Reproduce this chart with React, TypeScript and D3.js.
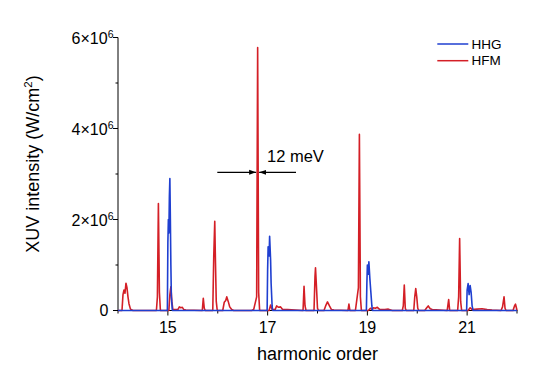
import React from "react";
import * as d3 from "d3";

// HFM (red) spectrum: harmonic order and intensity (10^6 W/cm^2)
const hfmOrder = [
  14.0, 14.08, 14.1, 14.12, 14.14, 14.16, 14.18, 14.2, 14.22, 14.25, 14.3,
  14.77, 14.79, 14.81, 14.83, 14.85,
  15.02, 15.04, 15.06, 15.08, 15.1, 15.2, 15.23, 15.26, 15.29, 15.32, 15.36,
  15.69, 15.71, 15.73, 15.75,
  15.9, 15.92, 15.94, 15.95, 15.97, 15.99,
  16.1, 16.13, 16.16, 16.18, 16.21, 16.24, 16.28, 16.32,
  16.68, 16.72, 16.78, 16.8, 16.82, 16.84,
  17.03, 17.06, 17.09, 17.15, 17.18, 17.22, 17.26, 17.3, 17.4,
  17.71, 17.73, 17.75, 17.77,
  17.93, 17.95, 17.96, 17.98, 18.0, 18.02,
  18.13, 18.17, 18.2, 18.24, 18.28, 18.33,
  18.61, 18.63, 18.65,
  18.76, 18.79, 18.82, 18.84, 18.86, 18.88,
  19.02, 19.06, 19.1, 19.12, 19.16, 19.2, 19.25, 19.35, 19.42, 19.5,
  19.7, 19.72, 19.74, 19.76, 19.78,
  19.93, 19.95, 19.97, 19.99, 20.01, 20.03,
  20.15, 20.19, 20.22, 20.26, 20.3, 20.45,
  20.6, 20.63, 20.65,
  20.81, 20.83, 20.85, 20.87, 20.89,
  21.02, 21.06, 21.1, 21.2, 21.3, 21.4, 21.5,
  21.68, 21.71, 21.74, 21.76, 21.78,
  21.92, 21.95, 21.97, 21.99, 22.0,
];
const hfmIntensity = [
  0, 0, 0.35, 0.45, 0.38, 0.6, 0.5, 0.3, 0.15, 0.03, 0,
  0, 0.3, 2.35, 0.4, 0,
  0, 0.35, 0.52, 0.2, 0.02, 0.02, 0.08, 0.06, 0.07, 0.02, 0.01,
  0, 0.27, 0.05, 0,
  0, 1.2, 1.96, 1.3, 0.2, 0,
  0, 0.18, 0.22, 0.3, 0.2, 0.08, 0.02, 0,
  0, 0.02, 0.3, 5.78, 0.4, 0,
  0, 0.12, 0.02, 0.02, 0.1, 0.07, 0.08, 0.02, 0.02,
  0, 0.53, 0.1, 0,
  0, 0.75, 0.94, 0.5, 0.05, 0,
  0, 0.12, 0.19, 0.1, 0.02, 0.01,
  0, 0.14, 0,
  0, 0.25, 0.5, 3.87, 0.3, 0,
  0, 0.05, 0.02, 0.06, 0.05, 0.07, 0.02, 0.02, 0.03, 0,
  0, 0.1, 0.56, 0.05, 0,
  0, 0.3, 0.48, 0.3, 0.05, 0,
  0, 0.06, 0.1, 0.04, 0.02, 0.01,
  0, 0.24, 0,
  0, 0.3, 1.58, 0.2, 0,
  0, 0.06, 0.02, 0.03, 0.04, 0.02, 0.01,
  0, 0.08, 0.3, 0.05, 0,
  0, 0.1, 0.14, 0.05, 0,
];

// HHG (blue) spectrum
const hhgOrder = [
  14.0, 14.99, 15.0, 15.01, 15.02, 15.03, 15.04, 15.05, 15.06, 15.07, 15.09,
  16.99, 17.0, 17.01, 17.03, 17.04, 17.06, 17.07, 17.09, 17.1,
  18.98, 18.99, 19.0, 19.02, 19.03, 19.05, 19.07, 19.09, 19.1,
  20.99, 21.0, 21.02, 21.04, 21.06, 21.08, 21.1, 21.12, 22.0,
];
const hhgIntensity = [
  0, 0, 1.5, 2.0, 1.7, 2.5, 2.9, 2.0, 1.0, 0.3, 0,
  0, 0.9, 1.4, 1.2, 1.63, 1.1, 0.6, 0.1, 0,
  0, 0.6, 1.0, 0.8, 1.07, 0.7, 0.4, 0.1, 0,
  0, 0.45, 0.59, 0.35, 0.55, 0.4, 0.1, 0, 0,
];

const xTicks = [14, 15, 16, 17, 18, 19, 20, 21, 22];
const xLabels = [15, 17, 19, 21];
const yTicks = [0, 1, 2, 3, 4, 5, 6];
const yLabels = [0, 2, 4, 6];

const RED = "#d41f26";
const BLUE = "#1f3fd0";
const FONT = "Liberation Sans, Arial, sans-serif";

export default function App() {
  const W = 540, H = 379;
  const x = d3.scaleLinear().domain([14, 22]).range([118, 517]);
  const y = d3.scaleLinear().domain([0, 6]).range([310.5, 37.5]);

  const hfm = hfmOrder.map((h, i) => [h, hfmIntensity[i]] as [number, number]);
  const hhg = hhgOrder.map((h, i) => [h, hhgIntensity[i]] as [number, number]);
  const line = d3.line<[number, number]>().x(d => x(d[0])).y(d => y(d[1]));

  const peakX = x(16.8);
  const arrowY = 172.3;
  const y0 = y(0);

  return (
    <svg width={W} height={H} style={{ position: "absolute", left: 0, top: 0 }} fontFamily={FONT}>
      <defs>
        <marker id="ah" viewBox="0 0 10 10" refX="10" refY="5" markerWidth="7" markerHeight="7" orient="auto" markerUnits="userSpaceOnUse">
          <path d="M0,1.5 L10,5 L0,8.5 Z" fill="#000" />
        </marker>
      </defs>
      <rect width={W} height={H} fill="#fff" />

      {/* axes */}
      <line x1={118} x2={118} y1={y(6)} y2={y0} stroke="#000" strokeWidth={1} />
      <line x1={117.5} x2={517.5} y1={y0} y2={y0} stroke="#000" strokeWidth={1} />
      {xTicks.map(t => (
        <line key={"xt" + t} x1={x(t)} x2={x(t)} y1={y0} y2={xLabels.includes(t) ? y0 + 5 : y0 + 3} stroke="#000" strokeWidth={1} />
      ))}
      {xLabels.map(t => (
        <text key={"xl" + t} x={x(t)} y={332.5} textAnchor="middle" fontSize={16}>{t}</text>
      ))}
      {yTicks.map(t => (
        <line key={"yt" + t} x1={yLabels.includes(t) ? 113 : 115.5} x2={118} y1={y(t)} y2={y(t)} stroke="#000" strokeWidth={1} />
      ))}
      {yLabels.map(t => (
        t === 0 ? (
          <text key={"yl" + t} x={108.5} y={y(t) + 5.8} textAnchor="end" fontSize={16}>0</text>
        ) : (
          <text key={"yl" + t} x={113.5} y={y(t) + 6.5} textAnchor="end" fontSize={16}>
            {t}×10<tspan fontSize={10.5} dy={-6.5}>6</tspan>
          </text>
        )
      ))}

      <path d={line(hfm) || ""} fill="none" stroke={RED} strokeWidth={1.6} strokeLinejoin="round" />
      <path d={line(hhg) || ""} fill="none" stroke={BLUE} strokeWidth={1.6} strokeLinejoin="round" />

      {/* axis titles */}
      <text x={317.5} y={360} textAnchor="middle" fontSize={18}>harmonic order</text>
      <text transform="translate(38.5,164) rotate(-90)" textAnchor="middle" fontSize={18}>
        XUV intensity (W/cm<tspan fontSize={11.5} dy={-7}>2</tspan><tspan dy={7}>)</tspan>
      </text>

      {/* annotation */}
      <line x1={217.3} x2={peakX - 1.5} y1={arrowY} y2={arrowY} stroke="#000" strokeWidth={1.3} markerEnd="url(#ah)" />
      <line x1={296} x2={peakX + 1.5} y1={arrowY} y2={arrowY} stroke="#000" strokeWidth={1.3} markerEnd="url(#ah)" />
      <text x={267} y={162} fontSize={16.5}>12 meV</text>

      {/* legend */}
      <line x1={437.3} x2={468.3} y1={44} y2={44} stroke={BLUE} strokeWidth={1.5} />
      <text x={471.5} y={48.7} fontSize={13.5}>HHG</text>
      <line x1={437.3} x2={468.3} y1={60.7} y2={60.7} stroke={RED} strokeWidth={1.5} />
      <text x={471.5} y={65.4} fontSize={13.5}>HFM</text>
    </svg>
  );
}
